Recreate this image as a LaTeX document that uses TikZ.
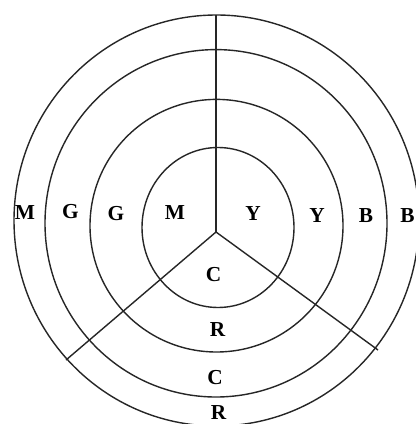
\documentclass[tikz,border=0pt]{standalone}
\usepackage{fontspec}
\setmainfont{Liberation Serif}
\begin{document}
\begin{tikzpicture}[x=0.75pt,y=-0.75pt,
  ring/.style={draw=black!85,line width=1.05pt},
  spoke/.style={draw=black!85,line width=1.05pt},
  lbl/.style={inner sep=0pt,font=\fontsize{16}{17}\selectfont\bfseries}]
\useasboundingbox (0,0) rectangle (416,424);
\fill[white] (0,0) rectangle (416,424);
% rings
\draw[ring] (218,227.5) ellipse [x radius=76, y radius=80];
\draw[ring] (216.5,225.7) ellipse [x radius=126.5, y radius=126.3];
\draw[ring] (216,223.3) ellipse [x radius=171, y radius=173.7];
\draw[ring] (216.5,220.5) ellipse [x radius=202.5, y radius=205.5];
% spokes
\coordinate (o) at (216,232);
\coordinate (top) at (216,15);
\coordinate (ll) at (66,360);
\coordinate (lr) at (378,350);
\draw[spoke] (o) -- (top);
\draw[spoke] (o) -- (ll);
\draw[spoke] (o) -- (lr);
% labels
\node[lbl] (m1) at (25,213) {M};
\node[lbl] (g1) at (70.5,212) {G};
\node[lbl] (g2) at (116,214) {G};
\node[lbl] (m2) at (175,213) {M};
\node[lbl] (y1) at (253,214) {Y};
\node[lbl] (y2) at (317,216) {Y};
\node[lbl] (b1) at (366,216) {B};
\node[lbl] (b2) at (407.5,216) {B};
\node[lbl] (c1) at (213.5,275) {C};
\node[lbl] (r1) at (217.5,330) {R};
\node[lbl] (c2) at (215,378) {C};
\node[lbl] (r2) at (218.5,413) {R};
\end{tikzpicture}
\end{document}
